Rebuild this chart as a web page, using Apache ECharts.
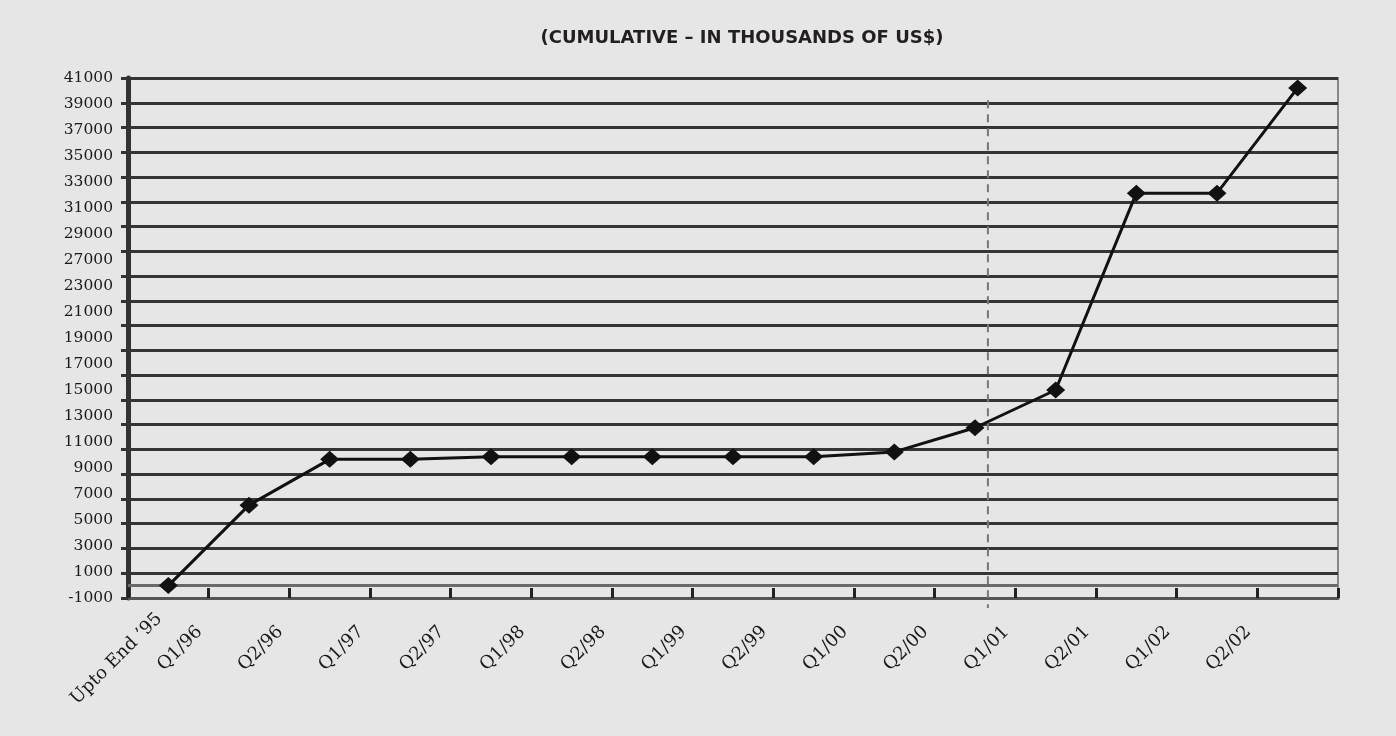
<!DOCTYPE html>
<html>
<head>
<meta charset="utf-8">
<title>Cumulative - in thousands of US$</title>
<script src="https://cdn.jsdelivr.net/npm/echarts@6/dist/echarts.min.js"></script>
<style>
  html, body { margin: 0; padding: 0; background: #e6e6e6; }
  #chart { width: 1396px; height: 736px; }
</style>
</head>
<body>
<div id="chart"></div>
<script>
// Quarter categories along the horizontal axis
const categories = ["Upto End \u201995", "Q1/96", "Q2/96", "Q1/97", "Q2/97", "Q1/98", "Q2/98",
  "Q1/99", "Q2/99", "Q1/00", "Q2/00", "Q1/01", "Q2/01", "Q1/02", "Q2/02"];

// Cumulative amount, thousands of US$
const cumulative = [0, 6500, 10200, 10200, 10400, 10400, 10400, 10400, 10400, 10800,
  12750, 15800, 31700, 31700, 40200];

// Value-axis tick labels as printed (evenly spaced down the left side)
const yTickLabels = ["-1000", "1000", "3000", "5000", "7000", "9000", "11000", "13000",
  "15000", "17000", "19000", "21000", "23000", "27000", "29000", "31000", "33000",
  "35000", "37000", "39000", "41000"];

// Position of the dashed divider, in category-band units from the left edge
const dividerAt = 10.66;
const dividerSpan = [39200, -1800];

const serif = "'DejaVu Serif', 'Liberation Serif', serif";
const chart = echarts.init(document.getElementById('chart'), null, { renderer: 'canvas' });

const PLOT = { left: 128, right: 58, top: 78, bottom: 138 };
// quarter labels are set a few pixels left of the band boundaries
const LABEL_NUDGE = 9;

const hiddenValueX = (gridIndex, extra) => Object.assign({
  type: 'value', gridIndex, min: 0, max: categories.length, position: 'bottom',
  axisLine: { show: false }, axisTick: { show: false }, splitLine: { show: false },
  axisLabel: { show: false }
}, extra);
const near = (a, b) => Math.abs(a - b) < 1e-6;

chart.setOption({
  backgroundColor: '#e6e6e6',
  animation: false,
  title: {
    text: '(CUMULATIVE \u2013 IN THOUSANDS OF US$)',
    left: 737, top: 24, textAlign: 'center',
    textStyle: { fontFamily: "'DejaVu Sans', sans-serif", fontWeight: 'bold', fontSize: 18, color: '#231f20' }
  },
  grid: [
    Object.assign({ show: true, borderColor: '#8a8a8a', borderWidth: 2, backgroundColor: 'transparent' }, PLOT),
    {
      left: PLOT.left - LABEL_NUDGE, right: PLOT.right + LABEL_NUDGE, top: PLOT.top, bottom: PLOT.bottom,
      show: false
    }
  ],
  xAxis: [
    {
      type: 'category', gridIndex: 0, data: categories, boundaryGap: true,
      axisLine: { show: true, onZero: false, lineStyle: { color: '#555', width: 3 } },
      axisTick: { show: true, inside: true, length: 10, interval: 0, lineStyle: { color: '#222', width: 3 } },
      axisLabel: { show: false },
      splitLine: { show: false }
    },
    // divider coordinate axis (band units)
    hiddenValueX(0, {}),
    // first label, centred on its band
    hiddenValueX(1, {
      interval: 0.5,
      axisLabel: {
        show: true, rotate: 45, margin: 18, fontFamily: serif, fontSize: 18, color: '#1a1a1a',
        showMinLabel: true, showMaxLabel: true,
        formatter: v => (near(v, 0.5) ? categories[0] : '')
      }
    }),
    // remaining quarter labels on the band boundaries
    hiddenValueX(1, {
      interval: 1,
      axisLabel: {
        show: true, rotate: 45, margin: 31, fontFamily: serif, fontSize: 18, color: '#1a1a1a',
        showMinLabel: true, showMaxLabel: true,
        formatter: v => (v >= 1 && v < categories.length ? categories[v] : '')
      }
    })
  ],
  yAxis: [
    {
      type: 'value', gridIndex: 0, min: -1000, max: 41000, interval: 2000,
      axisLine: { show: true, onZero: false, lineStyle: { color: '#333', width: 5 } },
      axisTick: { show: true, length: 7, lineStyle: { color: '#333', width: 3 } },
      axisLabel: { show: false },
      splitLine: { show: true, lineStyle: { color: '#353535', width: 3 } }
    },
    {
      type: 'value', gridIndex: 0, min: 0, max: yTickLabels.length - 1, interval: 1, position: 'left',
      axisLine: { show: false, onZero: false }, axisTick: { show: false }, splitLine: { show: false },
      axisLabel: {
        margin: 15, fontFamily: serif, fontSize: 15.5, color: '#1a1a1a',
        showMinLabel: true, showMaxLabel: true,
        formatter: v => yTickLabels[v] || ''
      }
    },
    {
      type: 'value', gridIndex: 1, min: -1000, max: 41000, show: false,
      axisLine: { show: false, onZero: false }, splitLine: { show: false }
    }
  ],
  series: [
    {
      name: 'Cumulative',
      type: 'line',
      xAxisIndex: 0, yAxisIndex: 0,
      data: cumulative,
      symbol: 'diamond', symbolSize: [19, 17],
      itemStyle: { color: '#111' },
      lineStyle: { color: '#111', width: 3 },
      z: 5,
      markLine: {
        silent: true, symbol: 'none', label: { show: false },
        lineStyle: { color: '#6a6a6a', width: 3, type: 'solid' },
        data: [{ yAxis: 0 }]
      }
    },
    {
      name: 'Divider',
      type: 'line',
      xAxisIndex: 1, yAxisIndex: 0,
      data: [[dividerAt, dividerSpan[0]], [dividerAt, dividerSpan[1]]],
      symbol: 'none', clip: false,
      lineStyle: { color: '#777', width: 2, type: [8, 6] },
      z: 4
    },
    {
      // empty series keeps the label grid's axes active
      name: 'labels',
      type: 'line',
      xAxisIndex: 3, yAxisIndex: 2,
      data: [],
      silent: true
    }
  ]
});
</script>
</body>
</html>
